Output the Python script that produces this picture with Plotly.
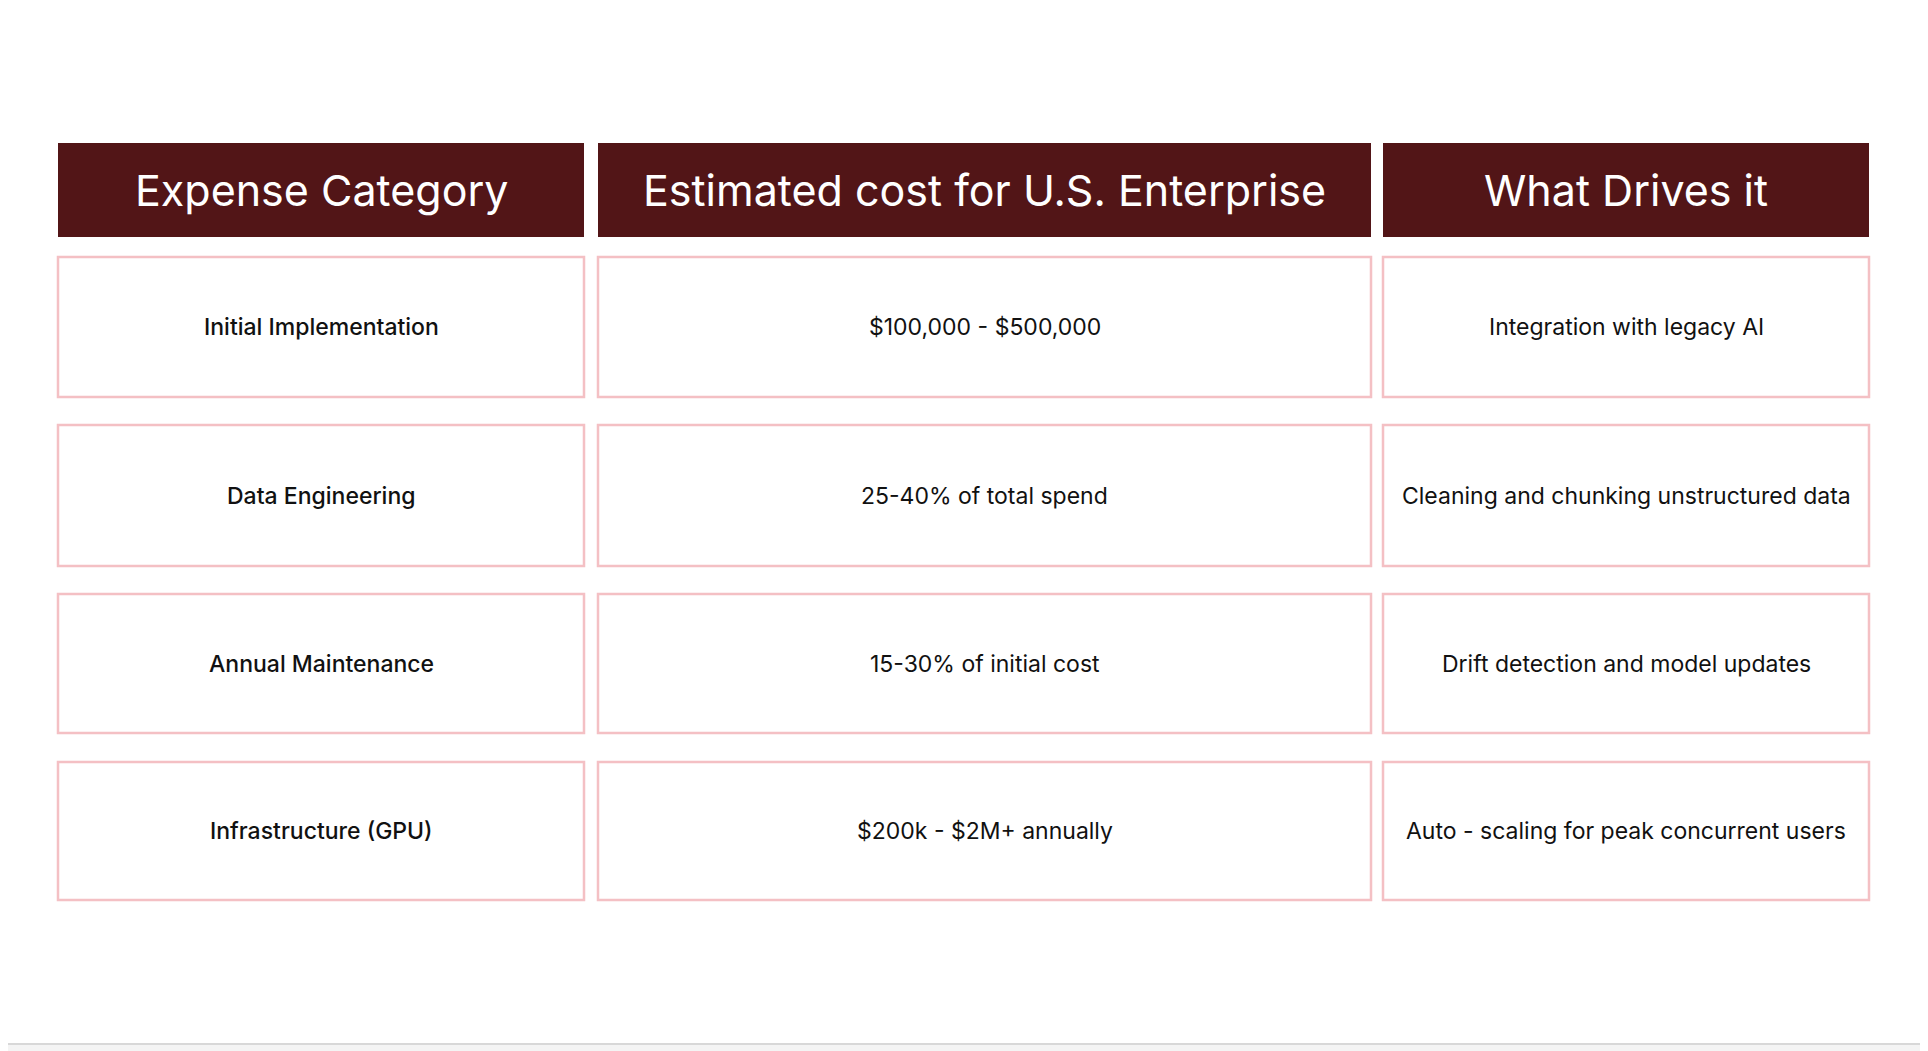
import plotly.graph_objects as go

headers = ["Expense Category", "Estimated cost for U.S. Enterprise", "What Drives it"]
categories = ["Initial Implementation", "Data Engineering", "Annual Maintenance", "Infrastructure (GPU)"]
costs = ["$100,000 - $500,000", "25-40% of total spend", "15-30% of initial cost", "$200k - $2M+ annually"]
drivers = ["Integration with legacy AI", "Cleaning and chunking unstructured data",
           "Drift detection and model updates", "Auto - scaling for peak concurrent users"]

col_x = [(58, 584), (598, 1371), (1383, 1869)]
header_y = (143, 237)
row_y = [(257, 397), (425, 566), (594, 733), (762, 900)]

fig = go.Figure()
shapes = []
annos = []
# card
shapes.append(dict(type="rect", x0=3, x1=1922, y0=-5, y1=1044, line=dict(color="#d8d8d8", width=2),
                   fillcolor="white", layer="below"))
for (x0, x1), h in zip(col_x, headers):
    shapes.append(dict(type="rect", x0=x0, x1=x1, y0=header_y[0], y1=header_y[1],
                       fillcolor="#521517", line=dict(width=0)))
    annos.append(dict(x=(x0 + x1) / 2, y=sum(header_y) / 2, text=h, showarrow=False,
                      font=dict(family="Inter", size=43, color="white")))
cols = [categories, costs, drivers]
for ci, ((x0, x1), vals) in enumerate(zip(col_x, cols)):
    for (y0, y1), v in zip(row_y, vals):
        shapes.append(dict(type="rect", x0=x0, x1=x1, y0=y0, y1=y1,
                           fillcolor="white", line=dict(color="#f4c0c4", width=2.5)))
        annos.append(dict(x=(x0 + x1) / 2, y=(y0 + y1) / 2, text=v, showarrow=False,
                          font=dict(family="Inter", size=23, color="#111111",
                                    weight=500 if ci == 0 else 400)))

fig.update_layout(width=1928, height=1051, margin=dict(l=0, r=0, t=0, b=0),
                  paper_bgcolor="#f4f4f4", plot_bgcolor="#f4f4f4",
                  shapes=shapes, annotations=annos, showlegend=False,
                  xaxis=dict(range=[8, 1936], visible=False, fixedrange=True),
                  yaxis=dict(range=[1059, 8], visible=False, fixedrange=True))
fig.write_html("out.html", config={"displayModeBar": False})
